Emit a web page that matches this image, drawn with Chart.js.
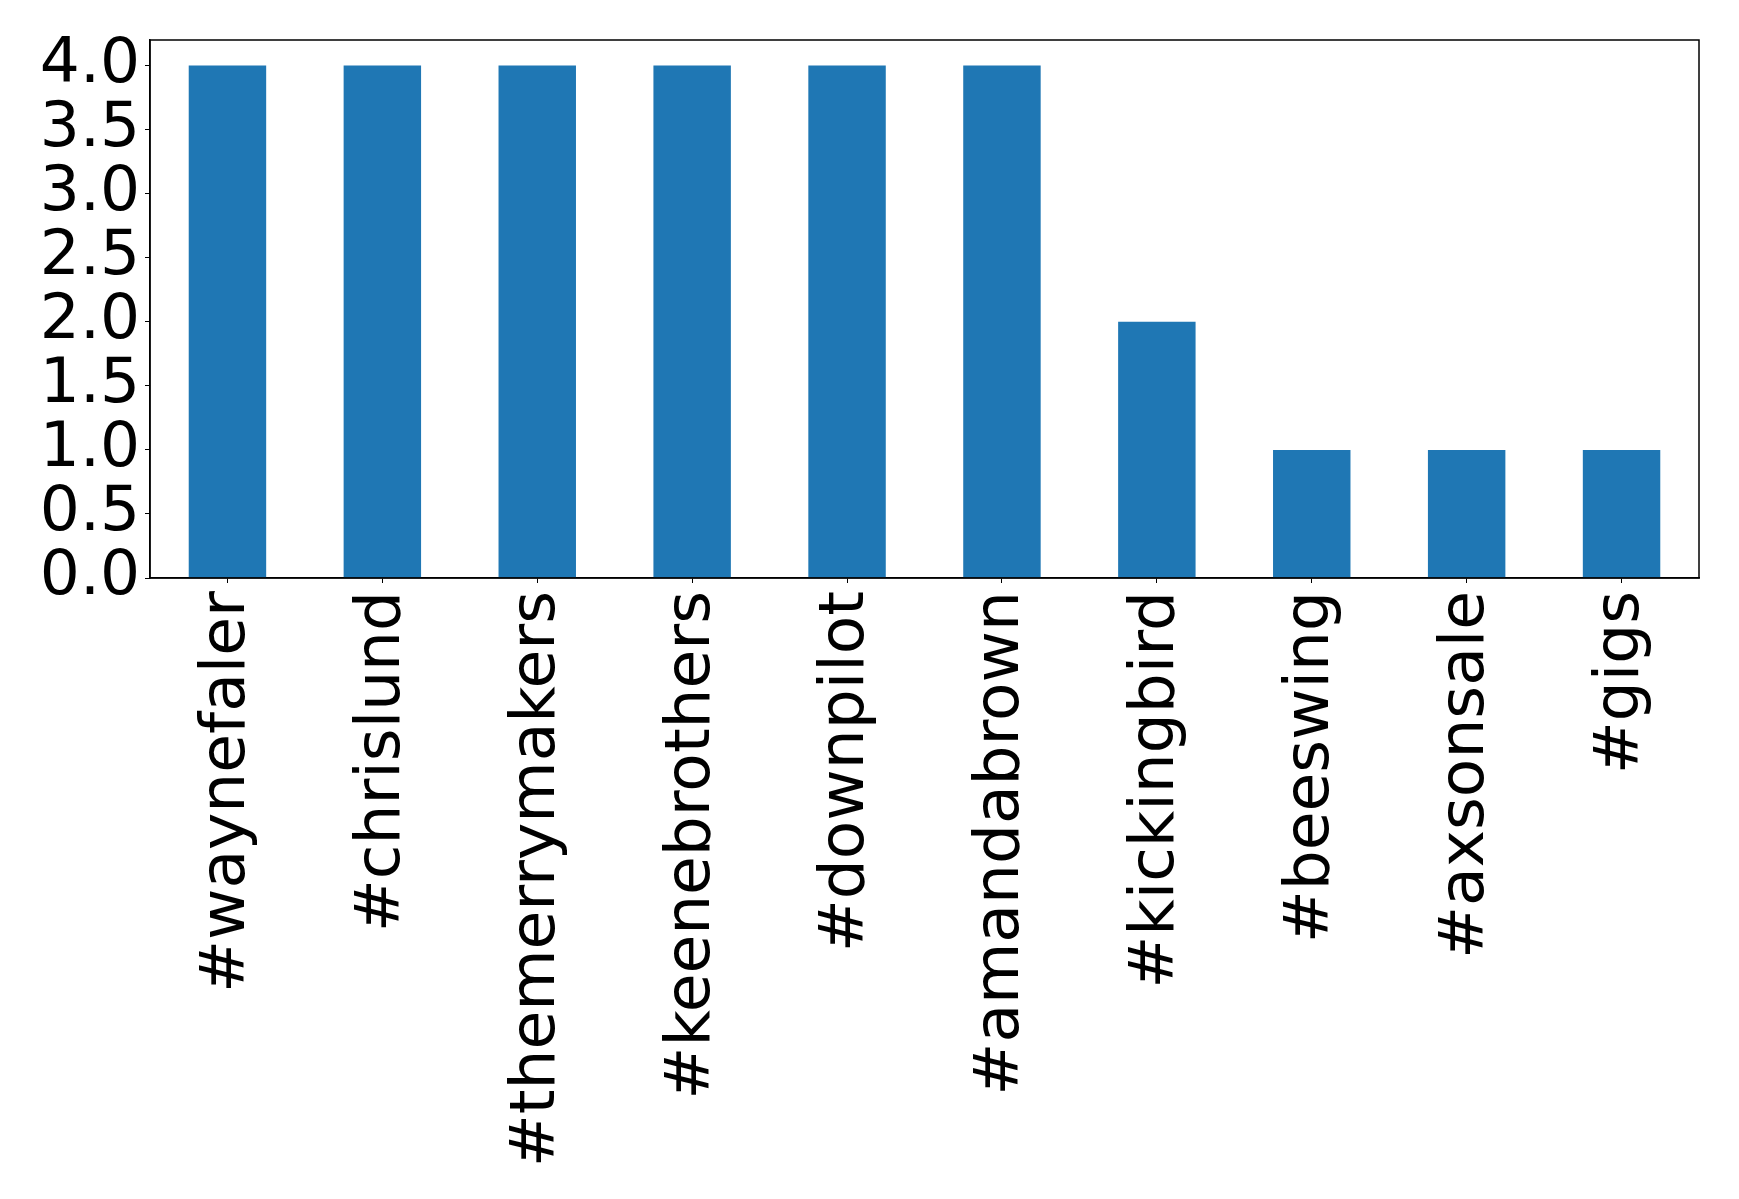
<!DOCTYPE html>
<html>
<head>
<meta charset="utf-8">
<script src="https://cdn.jsdelivr.net/npm/chart.js@4/dist/chart.umd.min.js"></script>
<style>
  html, body { margin: 0; padding: 0; background: #fff; }
  #wrap { width: 1739px; height: 1199px; }
</style>
</head>
<body>
<div id="wrap"><canvas id="chart"></canvas></div>
<script>
// hashtags and their counts
var hashtags = ['#waynefaler', '#chrislund', '#themerrymakers', '#keenebrothers', '#downpilot',
                '#amandabrown', '#kickingbird', '#beeswing', '#axsonsale', '#gigs'];
var counts = [4, 4, 4, 4, 4, 4, 2, 1, 1, 1];
var yTicks = [0, 0.5, 1, 1.5, 2, 2.5, 3, 3.5, 4];

var fonte = { family: "'DejaVu Sans', sans-serif", size: 63 };

// moldura completa do eixo (como no matplotlib)
var moldura = {
    id: 'moldura',
    afterDraw: function (chart) {
        var a = chart.chartArea, ctx = chart.ctx;
        ctx.save();
        ctx.strokeStyle = '#000';
        ctx.lineWidth = 1.5;
        ctx.strokeRect(a.left, a.top, a.right - a.left, a.bottom - a.top);
        ctx.restore();
    }
};

new Chart(document.getElementById('chart').getContext('2d'), {
    type: 'bar',
    data: {
        labels: hashtags,
        datasets: [{
            data: counts,
            backgroundColor: '#1f77b4',
            barPercentage: 0.5,
            categoryPercentage: 1.0
        }]
    },
    options: {
        responsive: true,
        maintainAspectRatio: false,
        animation: false,
        layout: { padding: { top: 40, right: 40, left: 0, bottom: 0 } },
        plugins: { legend: { display: false }, tooltip: { enabled: false } },
        scales: {
            x: {
                offset: true,
                grid: { display: true, offset: false, drawOnChartArea: false, drawTicks: true, tickLength: 5, tickColor: '#000' },
                border: { display: true, color: '#000', width: 1.5 },
                ticks: { color: '#000', font: fonte, minRotation: 90, maxRotation: 90, padding: 8, autoSkip: false },
                afterFit: function (s) { s.height = 621; s.paddingLeft = 0; s.paddingRight = 0; }
            },
            y: {
                min: 0,
                max: 4.2,
                grid: { display: true, drawOnChartArea: false, drawTicks: true, tickLength: 5, tickColor: '#000' },
                border: { display: true, color: '#000', width: 1.5 },
                afterBuildTicks: function (s) { s.ticks = yTicks.map(function (v) { return { value: v }; }); },
                ticks: {
                    color: '#000', font: fonte, padding: 5, autoSkip: false,
                    callback: function (v) { return Number(v).toFixed(1); }
                },
                afterFit: function (s) { s.width = 150; s.paddingTop = 0; s.paddingBottom = 0; }
            }
        }
    },
    plugins: [moldura]
});
</script>
</body>
</html>
